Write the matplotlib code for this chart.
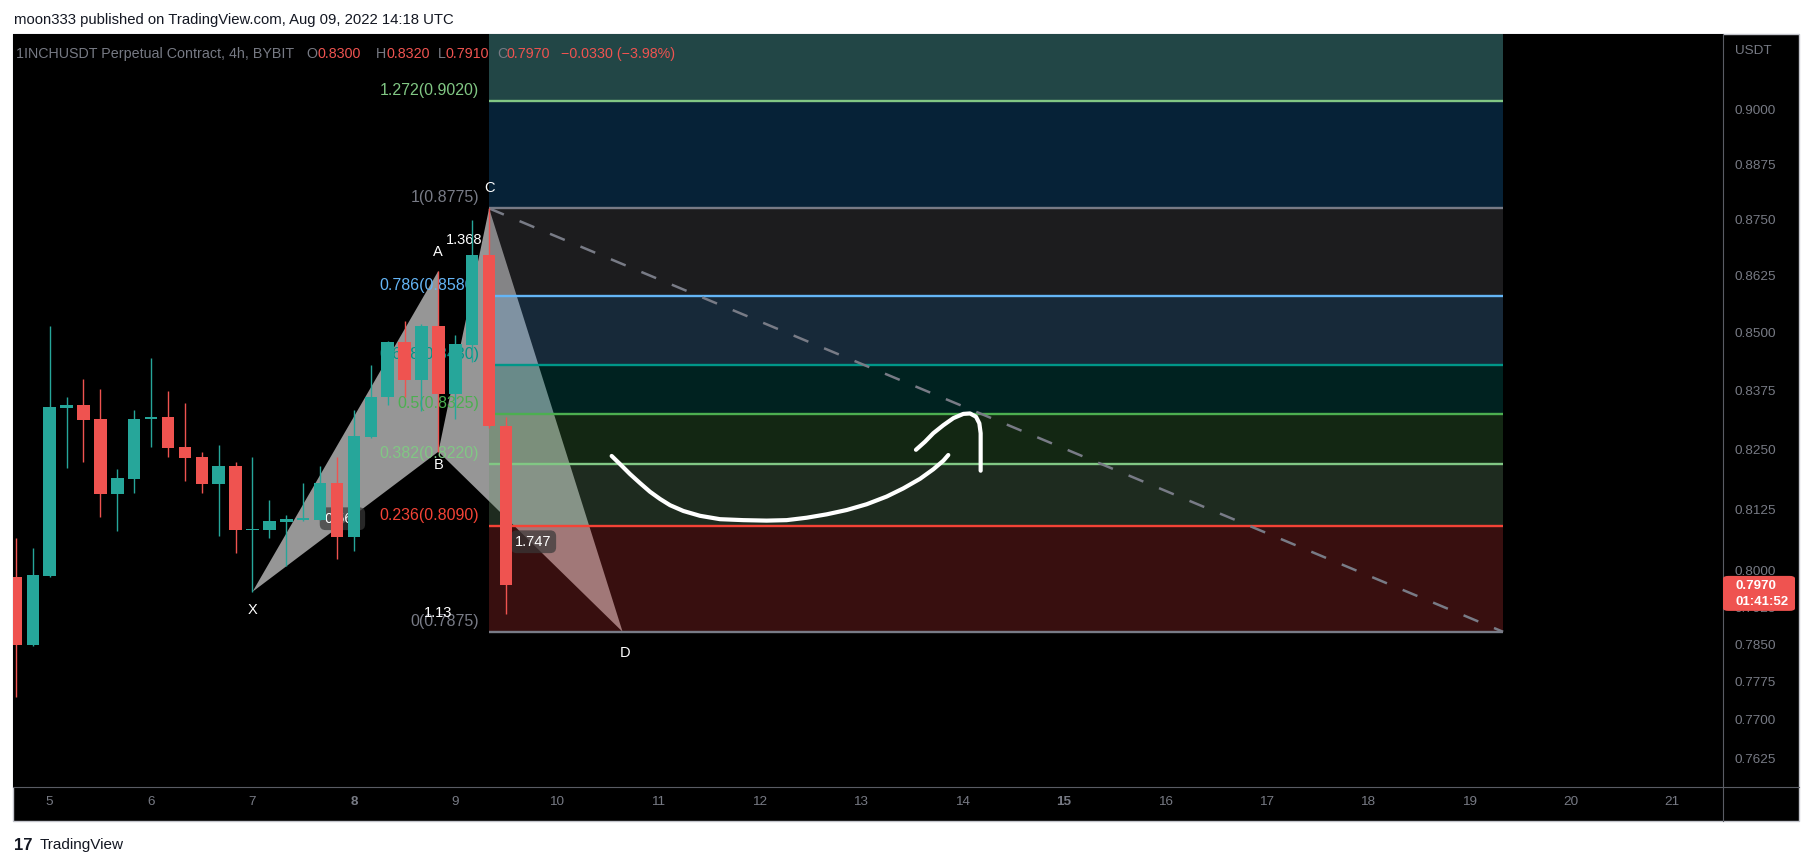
import numpy as np
import pandas as pd
import matplotlib
matplotlib.use("Agg")
import matplotlib.pyplot as plt
from matplotlib.patches import Rectangle, FancyBboxPatch
from matplotlib.lines import Line2D
from matplotlib.colors import to_rgb
from matplotlib.ticker import FixedLocator, NullLocator

plt.rcParams['font.family'] = ['Liberation Sans', 'DejaVu Sans']

W, H = 1813, 866

# 1INCHUSDT perpetual, Bybit, 4h candles (UTC)
candle_times = ["2022-08-04 16:00", "2022-08-04 20:00", "2022-08-05 00:00", "2022-08-05 04:00",
                "2022-08-05 08:00", "2022-08-05 12:00", "2022-08-05 16:00", "2022-08-05 20:00",
                "2022-08-06 00:00", "2022-08-06 04:00", "2022-08-06 08:00", "2022-08-06 12:00",
                "2022-08-06 16:00", "2022-08-06 20:00", "2022-08-07 00:00", "2022-08-07 04:00",
                "2022-08-07 08:00", "2022-08-07 12:00", "2022-08-07 16:00", "2022-08-07 20:00",
                "2022-08-08 00:00", "2022-08-08 04:00", "2022-08-08 08:00", "2022-08-08 12:00",
                "2022-08-08 16:00", "2022-08-08 20:00", "2022-08-09 00:00", "2022-08-09 04:00",
                "2022-08-09 08:00", "2022-08-09 12:00"]
opens = [0.7986, 0.7849, 0.7988, 0.8339, 0.8345, 0.8315, 0.8158, 0.8189, 0.8315, 0.8320,
         0.8256, 0.8235, 0.8179, 0.8216, 0.8083, 0.8083, 0.8100, 0.8104, 0.8104, 0.8180,
         0.8068, 0.8277, 0.8362, 0.8480, 0.8398, 0.8515, 0.8368, 0.8474, 0.8671, 0.8300]
highs = [0.8066, 0.8045, 0.8515, 0.8363, 0.8401, 0.8379, 0.8210, 0.8334, 0.8446, 0.8375,
         0.8349, 0.8245, 0.8260, 0.8225, 0.8235, 0.8145, 0.8114, 0.8180, 0.8216, 0.8235,
         0.8334, 0.8430, 0.8482, 0.8526, 0.8519, 0.8636, 0.8496, 0.8749, 0.8775, 0.8320]
lows = [0.7745, 0.7847, 0.7986, 0.8211, 0.8225, 0.8110, 0.8081, 0.8160, 0.8256, 0.8235,
        0.8185, 0.8160, 0.8071, 0.8036, 0.7956, 0.8067, 0.8009, 0.8102, 0.8103, 0.8022,
        0.8040, 0.8275, 0.8345, 0.8363, 0.8333, 0.8246, 0.8316, 0.8437, 0.8296, 0.7910]
closes = [0.7849, 0.7990, 0.8341, 0.8345, 0.8314, 0.8158, 0.8191, 0.8315, 0.8320, 0.8254,
          0.8233, 0.8179, 0.8216, 0.8083, 0.8085, 0.8101, 0.8105, 0.8106, 0.8180, 0.8068,
          0.8279, 0.8363, 0.8480, 0.8398, 0.8515, 0.8368, 0.8476, 0.8671, 0.8300, 0.7970]
countdown = "01:41:52"

# XABCD pattern points
pattern_names = ["X", "A", "B", "C", "D"]
pattern_times = ["2022-08-07 00:00", "2022-08-08 20:00", "2022-08-08 20:00", "2022-08-09 08:00", "2022-08-10 15:36"]
pattern_prices = [0.7956, 0.8636, 0.8246, 0.8775, 0.7875]
ratio_labels = ["0.569", "1.368", "1.747", "1.13"]   # on XB, AC, BD, XD

# Fib retracement drawn from C down to D
fib_start, fib_end = "2022-08-09 08:00", "2022-08-19 08:00"
fib_ratios = [0, 0.236, 0.382, 0.5, 0.618, 0.786, 1, 1.272, 1.618]
fib_prices = [0.7875, 0.8090, 0.8220, 0.8325, 0.8430, 0.8580, 0.8775, 0.9020, 0.9330]
fib_line_colors = ['#787b86', '#f44336', '#81c784', '#4caf50', '#009688', '#64b5f6', '#787b86', '#81c784', '#2962ff']
zone_colors = ['#381010', '#1e2b1f', '#132713', '#012220', '#172939', '#1c1c1e', '#072237', '#224646']

# hand drawn arrow (time as day of August, price)
stroke1_t = [10.542, 10.624, 10.723, 10.822, 10.920, 11.019, 11.118, 11.249, 11.413, 11.610, 11.840, 12.071,
             12.268, 12.465, 12.662, 12.860, 13.057, 13.254, 13.418, 13.583, 13.714, 13.813, 13.862]
stroke1_p = [0.8237, 0.8220, 0.8199, 0.8180, 0.8162, 0.8147, 0.8134, 0.8122, 0.8112, 0.8105, 0.8103, 0.8102,
             0.8103, 0.8108, 0.8115, 0.8124, 0.8136, 0.8152, 0.8169, 0.8189, 0.8209, 0.8227, 0.8239]
stroke2_t = [13.543, 13.632, 13.714, 13.813, 13.912, 14.010, 14.076, 14.135, 14.168, 14.181, 14.181, 14.181, 14.181]
stroke2_p = [0.8250, 0.8267, 0.8285, 0.8302, 0.8317, 0.8326, 0.8327, 0.8320, 0.8306, 0.8285, 0.8257, 0.8229, 0.8206]

price_ticks = [0.7625, 0.7700, 0.7775, 0.7850, 0.7925, 0.8000, 0.8125, 0.8250,
               0.8375, 0.8500, 0.8625, 0.8750, 0.8875, 0.9000]
day_ticks = list(range(5, 22))
bold_days = [8, 15]

TEAL, RED = '#26a69a', '#ef5350'
GRAY_TXT = '#777a84'


def to_day(s):
    t = pd.Timestamp(s)
    return t.day + t.hour / 24 + t.minute / 1440


t = np.array([to_day(s) for s in candle_times])
o, h, l, c = map(np.array, (opens, highs, lows, closes))
pt = [to_day(s) for s in pattern_times]
P = dict(zip(pattern_names, zip(pt, pattern_prices)))
f0, f1 = to_day(fib_start), to_day(fib_end)

fig = plt.figure(figsize=(W / 100, H / 100), dpi=100, facecolor='white')
ax = fig.add_axes([13 / W, (H - 787) / H, (1723 - 13) / W, (787 - 34) / H])
ax.set_facecolor('black')
ax.set_yscale('log')

# pattern triangles
for a, b, cc in [("X", "A", "B"), ("B", "C", "D")]:
    ax.fill([P[a][0], P[b][0], P[cc][0]], [P[a][1], P[b][1], P[cc][1]],
            color='#969696', lw=0, zorder=1)

# fib zones (semi transparent, above the pattern)
za = 0.3
for i, zc in enumerate(zone_colors):
    base = np.clip(np.array(to_rgb(zc)) / za, 0, 1)
    ax.fill_between([f0, f1], fib_prices[i], fib_prices[i + 1], color=base, alpha=za, lw=0, zorder=2)
for r, p, lc in zip(fib_ratios, fib_prices, fib_line_colors):
    ax.plot([f0, f1], [p, p], color=lc, lw=1.7, zorder=3, solid_capstyle='butt')
    ax.annotate(f"{r:g}({p:.4f})", xy=(f0, p), xytext=(-10, 6), textcoords='offset pixels',
                ha='right', va='baseline', color=lc, fontsize=11.5, zorder=3)

# dashed trend line over the fib box
ax.plot([f0, f1], [fib_prices[6], fib_prices[0]], color='#787b86', lw=1.8,
        dashes=(6.4, 6.8), zorder=4)

# ratio labels on the pattern legs
legs = [("X", "B", (-3, 3)), ("A", "C", (0, 0)), ("B", "D", (3, 0)), ("X", "D", (1, -1))]
for (a, b, off), txt in zip(legs, ratio_labels):
    mt = (P[a][0] + P[b][0]) / 2
    mp = np.sqrt(P[a][1] * P[b][1])
    boxed = txt in (ratio_labels[0], ratio_labels[2])
    ax.annotate(txt, xy=(mt, mp), xytext=off, textcoords='offset pixels', ha='center', va='center',
                color='white', fontsize=10.5, zorder=3,
                bbox=dict(boxstyle='round,pad=0.3,rounding_size=0.4', fc=(0.22, 0.22, 0.22, 0.7), ec='none')
                if boxed else None)

# candles
up = c >= o
col = np.where(up, TEAL, RED)
ax.vlines(t, l, h, colors=col, lw=1.0, zorder=5)
ax.bar(t, np.maximum(np.abs(c - o), 0.00025), bottom=np.minimum(o, c), width=0.123,
       color=col, lw=0, zorder=5)

# pattern letters
letter_off = {"X": (0, -18), "A": (-1, 19), "B": (0, -13), "C": (0, 20), "D": (2, -21)}
for n in pattern_names:
    ax.annotate(n, xy=P[n], xytext=letter_off[n], textcoords='offset pixels',
                ha='center', va='center', color='white', fontsize=10.5, zorder=6)

# hand drawn arrow
for st, sp in [(stroke1_t, stroke1_p), (stroke2_t, stroke2_p)]:
    ax.plot(st, sp, color='white', lw=3, solid_capstyle='round', solid_joinstyle='round', zorder=7)

ax.set_xlim(4.6381, 21.502)
ax.set_ylim(0.75688, 0.91749)

ax.yaxis.set_major_locator(FixedLocator(price_ticks))
ax.yaxis.set_minor_locator(NullLocator())
ax.set_yticklabels([f"{v:.4f}" for v in price_ticks])
ax.yaxis.tick_right()
ax.tick_params(axis='y', which='both', length=0, pad=8.6, labelsize=9.7, labelcolor=GRAY_TXT)
ax.set_xticks(day_ticks)
ax.set_xticklabels([str(d) for d in day_ticks])
ax.tick_params(axis='x', length=0, pad=6.5, labelsize=9.7, labelcolor=GRAY_TXT)
for lab, d in zip(ax.get_xticklabels(), day_ticks):
    if d in bold_days:
        lab.set_fontweight('bold')
for s in ax.spines.values():
    s.set_visible(False)

# panel background and borders
fig.add_artist(Rectangle((13 / W, 1 - 821 / H), (1799 - 13) / W, (821 - 34) / H, transform=fig.transFigure,
                         facecolor='black', edgecolor='#c3c5cc', lw=1, zorder=-1))
fig.add_artist(Line2D([1723 / W, 1723 / W], [1 - 34 / H, 1 - 821 / H], transform=fig.transFigure,
                      color='#5a5c64', lw=0.8, zorder=3))
fig.add_artist(Line2D([13 / W, 1799 / W], [1 - 787 / H, 1 - 787 / H], transform=fig.transFigure,
                      color='#5a5c64', lw=0.8, zorder=3))

# last price tag
ylast = ax.transData.transform((t[-1], c[-1]))[1]
fig.add_artist(FancyBboxPatch((1723 / W, (ylast - 26) / H), 72 / W, 35 / H, transform=fig.transFigure,
                              boxstyle='round,pad=0,rounding_size=0.003', fc=RED, ec='none', zorder=4))
fig.text(1735 / W, (ylast - 1) / H, f"{c[-1]:.4f}", color='white', fontsize=9.5, weight='bold',
         va='center', ha='left', zorder=5)
fig.text(1735 / W, (ylast - 17) / H, countdown, color='white', fontsize=9.5, weight='bold',
         va='center', ha='left', zorder=5)
fig.text(1735 / W, 1 - 51 / H, "USDT", color=GRAY_TXT, fontsize=9.7, va='center', ha='left')

# header texts
fig.text(14 / W, 1 - 20 / H, "moon333 published on TradingView.com, Aug 09, 2022 14:18 UTC",
         color='#131722', fontsize=10.7, va='center', ha='left')
chg = c[-1] - c[-2]
pct = chg / c[-2] * 100
pieces = [(15.6, "1INCHUSDT Perpetual Contract, 4h, BYBIT", GRAY_TXT),
          (306, "O", GRAY_TXT), (317, f"{o[-1]:.4f}", RED),
          (376, "H", GRAY_TXT), (386.5, f"{h[-1]:.4f}", RED),
          (438, "L", GRAY_TXT), (446, f"{l[-1]:.4f}", RED),
          (497, "C", GRAY_TXT), (507, f"{c[-1]:.4f}", RED),
          (561, f"{chg:.4f} ({pct:.2f}%)".replace("-", "\u2212"), RED)]
for x, s, cl in pieces:
    fig.text(x / W, 1 - 54 / H, s, color=cl, fontsize=10.3, va='center', ha='left', zorder=5)

fig.text(14 / W, 1 - 845 / H, "17", color='#131722', fontsize=12, weight='heavy', va='center', ha='left')
fig.text(40 / W, 1 - 845 / H, "TradingView", color='#131722', fontsize=11, va='center', ha='left')

fig.savefig("out.png", dpi=100, facecolor='white')
